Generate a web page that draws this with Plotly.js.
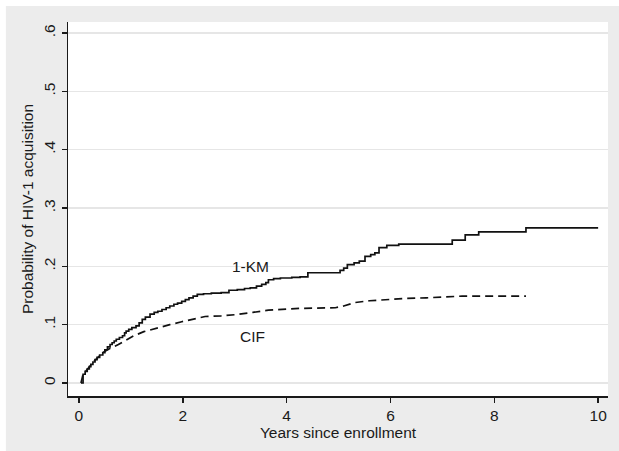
<!DOCTYPE html>
<html>
<head>
<meta charset="utf-8">
<script src="https://cdn.plot.ly/plotly-3.0.1.min.js"></script>
<style>html,body{margin:0;padding:0;background:#fff;}#chart{width:619px;height:451px;}</style>
</head>
<body>
<div id="chart"></div>
<script>
// 1-KM (step function)
var kmYears = [0.04,0.08,0.12,0.16,0.20,0.23,0.27,0.31,0.35,0.40,0.46,0.50,0.55,0.60,0.64,0.68,0.72,0.78,0.84,0.88,0.91,0.96,1.02,1.10,1.16,1.22,1.28,1.37,1.45,1.52,1.60,1.68,1.75,1.83,1.90,1.98,2.05,2.12,2.20,2.28,2.40,2.55,2.74,2.89,3.05,3.19,3.30,3.42,3.52,3.60,3.65,3.75,3.88,4.10,4.26,4.41,4.70,4.94,5.03,5.10,5.17,5.30,5.40,5.51,5.62,5.70,5.78,5.93,6.16,7.15,7.19,7.44,7.70,8.61,10.0];
var kmProb  = [0.000,0.015,0.020,0.024,0.028,0.032,0.036,0.040,0.044,0.048,0.052,0.057,0.062,0.066,0.069,0.072,0.075,0.078,0.081,0.086,0.089,0.092,0.095,0.098,0.103,0.109,0.113,0.118,0.121,0.123,0.126,0.129,0.132,0.135,0.137,0.140,0.143,0.146,0.149,0.152,0.153,0.154,0.155,0.159,0.160,0.162,0.163,0.166,0.169,0.172,0.177,0.179,0.180,0.181,0.182,0.189,0.189,0.189,0.193,0.197,0.203,0.206,0.209,0.217,0.220,0.223,0.232,0.236,0.238,0.238,0.245,0.254,0.259,0.266,0.266];
// CIF
var cifYears = [0.04,0.08,0.15,0.23,0.30,0.38,0.46,0.55,0.65,0.76,0.90,1.06,1.25,1.52,1.75,1.98,2.20,2.43,2.74,3.00,3.35,3.65,4.26,4.94,5.10,5.32,5.60,5.93,6.30,6.69,7.38,8.61];
var cifProb  = [0.000,0.015,0.022,0.031,0.038,0.045,0.052,0.057,0.061,0.066,0.073,0.081,0.088,0.095,0.100,0.105,0.110,0.114,0.115,0.117,0.121,0.125,0.128,0.129,0.132,0.138,0.141,0.143,0.145,0.146,0.149,0.149];

var xTicks = [0,2,4,6,8,10];
var yTicks = [0,0.1,0.2,0.3,0.4,0.5,0.6];
var yTickLabels = ["0",".1",".2",".3",".4",".5",".6"];
var seriesLabels = ["1-KM","CIF"];
var labelX = [3.3, 3.35];
var labelY = [0.2, 0.079];

var traces = [
  {x: kmYears, y: kmProb, type: 'scatter', mode: 'lines', line: {shape: 'hv', color: '#111111', width: 1.7}, hoverinfo: 'skip'},
  {x: cifYears, y: cifProb, type: 'scatter', mode: 'lines', line: {shape: 'linear', color: '#111111', width: 1.7, dash: '8px,5px'}, hoverinfo: 'skip'}
];

var font = {family: 'Liberation Sans, Arial, sans-serif', size: 15.5, color: '#1a1a1a'};

var layout = {
  width: 619, height: 451,
  margin: {l: 68, r: 11, t: 22, b: 55, pad: 0},
  paper_bgcolor: '#ffffff',
  plot_bgcolor: '#ffffff',
  showlegend: false,
  font: font,
  shapes: [
    {type: 'rect', xref: 'paper', yref: 'paper', x0: -0.115, x1: 1.03, y0: -0.16, y1: 1.043, fillcolor: '#ececec', line: {width: 0}, layer: 'below'},
    {type: 'rect', xref: 'paper', yref: 'paper', x0: 0, x1: 1, y0: 0, y1: 1, fillcolor: '#ffffff', line: {width: 0}, layer: 'below'}
  ],
  xaxis: {
    range: [-0.21, 10.19],
    tickvals: xTicks,
    ticks: 'outside', ticklen: 5, tickwidth: 1.5, tickcolor: '#1a1a1a',
    showline: true, linecolor: '#1a1a1a', linewidth: 1.5,
    showgrid: false, zeroline: false,
    tickfont: font,
    title: {text: 'Years since enrollment', font: font, standoff: 0}
  },
  yaxis: {
    range: [-0.0223, 0.619],
    tickvals: yTicks, ticktext: yTickLabels,
    tickangle: -90,
    ticks: 'outside', ticklen: 5, tickwidth: 1.5, tickcolor: '#1a1a1a',
    showline: true, linecolor: '#1a1a1a', linewidth: 1.5,
    showgrid: true, gridcolor: '#e6e6e6', gridwidth: 1.5, zeroline: false,
    tickfont: font,
    title: {text: 'Probability of HIV-1 acquisition', font: font, standoff: 4}
  },
  annotations: seriesLabels.map(function(t, i) {
    return {x: labelX[i], y: labelY[i], xref: 'x', yref: 'y', text: t, showarrow: false, font: font, xanchor: 'center', yanchor: 'middle'};
  })
};

Plotly.newPlot('chart', traces, layout, {staticPlot: true, displayModeBar: false});
</script>
</body>
</html>
